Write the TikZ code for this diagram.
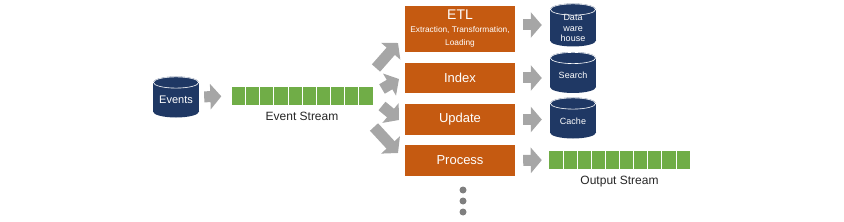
\documentclass[tikz,border=0pt]{standalone}
\usepackage{fontspec}
\setmainfont{Liberation Sans}
\usetikzlibrary{arrows.meta,calc}
\definecolor{navy}{HTML}{1F3864}
\definecolor{rust}{HTML}{C55A11}
\definecolor{leaf}{HTML}{70AD47}
\definecolor{arrowgray}{HTML}{A6A6A6}
\definecolor{dotgray}{HTML}{7F7F7F}
\tikzset{
  db/.style={rectangle, inner sep=0pt, minimum width=46pt, fill=white, draw=none,
    path picture={
      \fill[navy] ($(path picture bounding box.north west)+(0,-6pt)$) rectangle ($(path picture bounding box.south east)+(0,6pt)$);
      \fill[navy] ($(path picture bounding box.south)+(0,6pt)$) ellipse [x radius=23pt, y radius=6pt];
      \fill[navy] ($(path picture bounding box.north)+(0,-6pt)$) ellipse [x radius=23pt, y radius=6pt];
      \draw[white, line width=0.6pt] ($(path picture bounding box.north)+(0,-6pt)$) ellipse [x radius=22.6pt, y radius=5.6pt];
    }},
  dbtext/.style={text=white, inner sep=0pt, align=center, font=\fontsize{9}{10.5}\selectfont},
  taskbox/.style={rectangle, fill=rust, text=white, minimum width=110pt, inner sep=0pt,
    align=center, font=\fontsize{13}{14}\selectfont},
  stream/.style={rectangle, fill=leaf, minimum width=141pt, minimum height=18pt, inner sep=0pt,
    path picture={
      \foreach \k in {1,...,9}{
        \draw[white, line width=0.8pt] ($(path picture bounding box.south west)!\k/10!(path picture bounding box.south east)$)
          -- ($(path picture bounding box.north west)!\k/10!(path picture bounding box.north east)$);}
    }},
  blk/.style={draw=arrowgray, line width=11pt, -{Triangle[width=25pt,length=11pt]}},
  lbl/.style={font=\fontsize{12}{13}\selectfont, text=black!85},
  dot/.style={circle, fill=dotgray, minimum size=7pt, inner sep=0pt}
}
\begin{document}
\begin{tikzpicture}[x=1pt,y=-1pt]
\useasboundingbox (0,0) rectangle (844,222);

% source
\node[db, minimum height=41pt] (events) at (176,97) {};
\node[dbtext, font=\fontsize{11}{12}\selectfont] (eventstxt) at ([yshift=-3pt]events.center) {Events};
\node[stream] (estream) at (302,96) {};
\node[lbl, anchor=north] (elabel) at (estream.south) [yshift=-3pt] {Event Stream};

% tasks
\node[taskbox, minimum height=46pt] (etl) at (460,29) {{\fontsize{14}{14}\selectfont ETL}\\[-1pt]{\fontsize{8.3}{10}\selectfont Extraction, Transformation,}\\[-1pt]{\fontsize{8.3}{10}\selectfont Loading}};
\node[taskbox, minimum height=30pt] (index) at (460,78) {Index};
\node[taskbox, minimum height=31pt] (update) at (460,119.5) {Update};
\node[taskbox, minimum height=31pt] (process) at (460,160.5) {Process};

% sinks
\node[db, minimum height=43pt] (dw) at (573,25) {};
\node[dbtext] (dwtxt) at ([yshift=-3pt]dw.center) {Data\\ware\\house};
\node[db, minimum height=41pt] (search) at (573,72.5) {};
\node[dbtext] (searchtxt) at ([yshift=-3pt]search.center) {Search};
\node[db, minimum height=41pt] (cache) at (573,118) {};
\node[dbtext] (cachetxt) at ([yshift=-3.5pt]cache.center) {Cache};
\node[stream] (ostream) at (619.5,160) {};
\node[lbl, anchor=north] (olabel) at (ostream.south) [yshift=-3pt] {Output Stream};

% more
\node[dot] (d1) at (463,190) {};
\node[dot] (d2) at (463,201) {};
\node[dot] (d3) at (463,212) {};

% connectors
\draw[blk, shorten <=5pt, shorten >=10pt] (events.east) -- (estream.west);

\coordinate (t1) at (376,68); \coordinate (h1) at (398,43);
\coordinate (t2) at (382,89); \coordinate (h2) at (399,79);
\coordinate (t3) at (382,106); \coordinate (h3) at (399,120);
\coordinate (t4) at (374,127); \coordinate (h4) at (398,153);
\draw[blk] (t1) -- (h1);
\draw[blk] (t2) -- (h2);
\draw[blk] (t3) -- (h3);
\draw[blk] (t4) -- (h4);

\draw[blk, shorten <=8pt, shorten >=8pt] (etl.east |- dw) -- (dw.west);
\draw[blk, shorten <=8pt, shorten >=8pt] (index.east) -- (index.east -| search.west);
\draw[blk, shorten <=8pt, shorten >=8pt] (update.east) -- (update.east -| cache.west);
\draw[blk, shorten <=8pt, shorten >=7pt] (process.east) -- (ostream.west);
\end{tikzpicture}
\end{document}
